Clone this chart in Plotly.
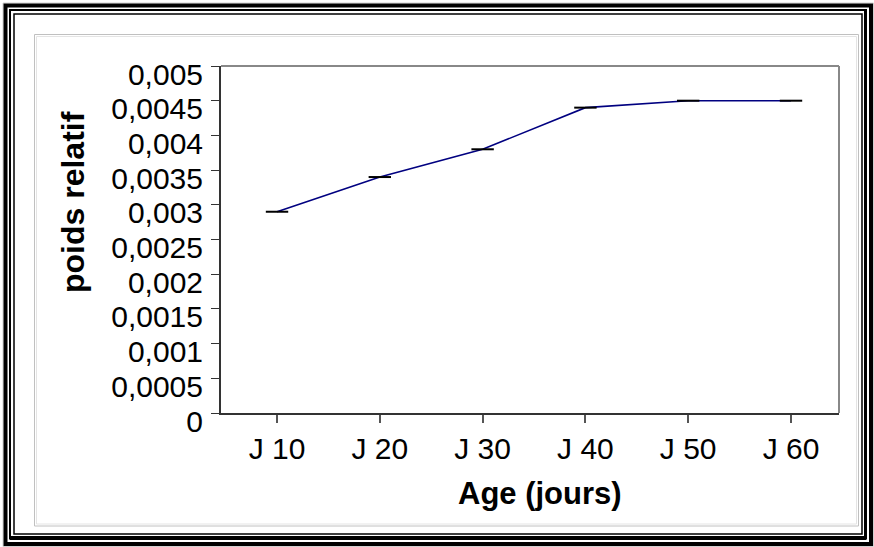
import plotly.graph_objects as go

# Relative weight by age
ages = ["J 10", "J 20", "J 30", "J 40", "J 50", "J 60"]
poids = [0.0029, 0.0034, 0.0038, 0.0044, 0.0045, 0.0045]

y_ticks = [0, 0.0005, 0.001, 0.0015, 0.002, 0.0025, 0.003, 0.0035, 0.004, 0.0045, 0.005]
y_labels = ["0", "0,0005", "0,001", "0,0015", "0,002", "0,0025", "0,003", "0,0035", "0,004", "0,0045", "0,005"]

x_title = "Age (jours)"
y_title = "poids relatif"

W, H = 874, 547
ML, MR, MT, MB = 221, 35, 66, 134
PW, PH = W - ML - MR, H - MT - MB


def px(x):
    return (x - ML) / PW


def py(y):
    return (H - MB - y) / PH


FONT = "Liberation Sans, Arial, sans-serif"

fig = go.Figure()
fig.add_trace(go.Scatter(
    x=list(range(len(ages))),
    y=poids,
    mode="lines+markers",
    line=dict(color="#000080", width=1.6),
    marker=dict(symbol="line-ew", size=16, line=dict(color="#000000", width=2)),
    showlegend=False,
    hoverinfo="skip",
))

shapes = []
# top and right edges of the plot area
shapes.append(dict(type="line", xref="paper", yref="paper", x0=0, y0=1, x1=1, y1=1,
                   line=dict(color="#888888", width=2)))
shapes.append(dict(type="line", xref="paper", yref="paper", x0=1, y0=1, x1=1, y1=0,
                   line=dict(color="#888888", width=2)))


def frame(x0, y0, x1, y1, color, width):
    shapes.append(dict(type="rect", xref="paper", yref="paper",
                       x0=px(x0), y0=py(y0), x1=px(x1), y1=py(y1),
                       line=dict(color=color, width=width), layer="above"))


def seg(x0, y0, x1, y1, color, width):
    shapes.append(dict(type="line", xref="paper", yref="paper",
                       x0=px(x0), y0=py(y0), x1=px(x1), y1=py(y1),
                       line=dict(color=color, width=width), layer="above"))


# outer decorative border
frame(3, 3, 873.5, 546.5, "#d0d0d0", 1)
frame(5.5, 5.5, 871, 544, "#000000", 4)
frame(10, 10, 866, 538.5, "#000000", 2)
seg(10, 538, 866, 538, "#000000", 4)
seg(865.5, 10, 865.5, 539, "#000000", 3)
frame(14, 14, 862, 534, "#000000", 1.5)
# inner double grey border
frame(34.5, 34.5, 858.5, 526, "#c0c0c0", 1)
frame(36.5, 36.5, 856.5, 524, "#e4e4e4", 1)

fig.update_layout(
    width=W, height=H,
    margin=dict(l=ML, r=MR, t=MT, b=MB),
    paper_bgcolor="white",
    plot_bgcolor="white",
    font=dict(family=FONT, size=30, color="#000000"),
    shapes=shapes,
    annotations=[
        dict(text="<b>%s</b>" % x_title, xref="paper", yref="paper",
             x=px(540), y=py(494), xanchor="center", yanchor="middle",
             showarrow=False, font=dict(family=FONT, size=31, color="#000000")),
        dict(text="<b>%s</b>" % y_title, xref="paper", yref="paper",
             x=px(73), y=py(202), xanchor="center", yanchor="middle", textangle=-90,
             showarrow=False, font=dict(family=FONT, size=32, color="#000000")),
    ],
)

fig.update_xaxes(
    range=[-0.545, 5.467],
    tickvals=list(range(len(ages))),
    ticktext=ages,
    showgrid=False, zeroline=False,
    showline=True, linecolor="#333333", linewidth=2,
    ticks="outside", ticklen=8, tickwidth=2, tickcolor="#555555",
    tickfont=dict(family=FONT, size=30, color="#000000"),
)
fig.update_yaxes(
    range=[0, 0.005],
    tickvals=y_ticks,
    ticktext=y_labels,
    showgrid=False, zeroline=False,
    showline=True, linecolor="#333333", linewidth=2,
    ticks="outside", ticklen=8, tickwidth=1, tickcolor="#333333",
    ticklabelshift=8,
    ticklabelstandoff=2,
    tickfont=dict(family=FONT, size=30, color="#000000"),
)

fig.write_html("out.html")
